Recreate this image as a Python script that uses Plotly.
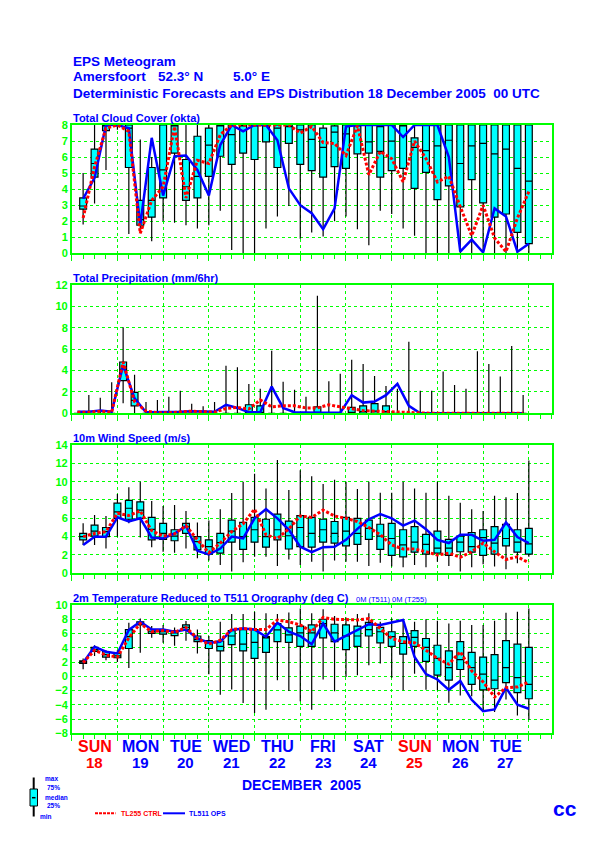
import plotly.graph_objects as go

# page geometry (pixels) - the reference is a 595x842 page
W, H = 595, 842
X0, X1 = 71.7, 551.7          # left / right edge of every panel
PANEL_TOPS = [125, 285, 445, 605]
PANEL_H = 128.3

BLUE = "#0000FF"
RED = "#FF0000"
GREEN = "#00FF00"
CYAN = "#00FFFF"
FONT = "Liberation Sans"


def px(x):
    return x / W


def py(y):
    return 1 - y / H


# forecast steps (hours after 18 Dec 2005 00 UTC)
step_hours = list(range(6, 241, 6))      # instantaneous fields
precip_hours = list(range(3, 240, 6))    # 6-hourly accumulations, mid period

day_names = ["SUN", "MON", "TUE", "WED", "THU", "FRI", "SAT", "SUN", "MON", "TUE"]
day_dates = ["18", "19", "20", "21", "22", "23", "24", "25", "26", "27"]
day_colors = [RED, BLUE, BLUE, BLUE, BLUE, BLUE, BLUE, RED, BLUE, BLUE]
day_mid_hours = [12, 36, 60, 84, 108, 132, 156, 180, 204, 228]

# ---- Total cloud cover (okta)
cloud_min = [1.8, 3.1, 5.2, 7.7, 1.2, 1.35, 0.75, 2.0, 1.9, 1.75, 1.55, 1.75, 2.65, 0.2, 0.0, 0.0, 1.55, 2.3, 2.95, 0.9,
             1.3, 1.05, 2.0, 2.3, 1.5, 0.5, 2.65, 2.45, 1.55, 1.1, 0, 0, 0, 0, 0, 0, 0, 0, 0, 0]
cloud_q1 = [2.75, 4.75, 7.65, 7.95, 5.35, 1.75, 2.25, 3.45, 6.25, 3.3, 3.45, 4.8, 6.05, 5.55, 6.25, 5.85, 6.95, 5.35, 6.85, 5.55,
            5.15, 4.75, 5.4, 5.3, 6.2, 6.25, 4.75, 5.15, 5.3, 4.05, 5.05, 3.35, 4.2, 2.9, 4.6, 3.15, 2.25, 2.45, 1.3, 0.6]
cloud_med = [2.95, 5.6, 7.95, 8, 7.8, 2.1, 3.3, 5.2, 7.95, 4.15, 4.8, 6.75, 8, 7.4, 8, 8, 8, 7.8, 7.9, 7.7,
             7.1, 6.6, 7.55, 7.45, 8, 6.95, 6.35, 7.0, 8, 6.6, 6.4, 6.7, 7.05, 5.6, 6.7, 6.85, 6.2, 6.5, 5.3, 4.5]
cloud_q3 = [3.45, 6.5, 8, 8, 8, 3.3, 5.35, 8, 8, 5.85, 7.3, 7.8, 8, 8, 8, 8, 8, 8, 8, 8,
            8, 7.8, 7.95, 8, 8, 8, 7.9, 8, 8, 7.2, 8, 8, 8, 8, 8, 8, 8, 8, 8, 8]
cloud_max = [5.0, 8, 8, 8, 8, 7.1, 6.0, 8, 8, 8, 8, 8, 8, 8, 8, 8, 8, 8, 8, 8,
             8, 8, 8, 8, 8, 8, 8, 8, 8, 8, 8, 8, 8, 8, 8, 8, 8, 8, 8, 8]
cloud_ops = [3.4, 4.7, 8, 8, 7.8, 1.75, 7.2, 3.6, 6.05, 6.1, 5.2, 3.6, 6.75, 8, 7.6, 8, 8, 7.05, 4.05, 3.0,
             2.5, 1.5, 2.8, 7.9, 8, 8, 8, 8, 7.25, 8, 8, 8, 6.0, 0.1, 0.85, 0.05, 2.8, 2.3, 0.1, 0.6]
cloud_ctrl = [2.2, 5.4, 7.8, 8, 7.6, 1.25, 3.3, 4.15, 7.9, 3.45, 5.8, 5.6, 7.4, 8, 8, 8, 8, 8, 8, 7.5,
              7.9, 6.9, 6.85, 6.1, 7.95, 4.9, 6.35, 5.9, 4.45, 7.0, 5.9, 4.45, 4.8, 2.9, 1.1, 3.0, 0.95, 0.1, 2.2, 3.85]

# ---- Total precipitation (mm/6hr)
precip_min = [0, 0, 0, 0, 0.95, 0, 0, 0, 0, 0, 0, 0, 0, 0, 0, 0, 0, 0, 0, 0,
              0, 0, 0, 0, 0, 0, 0, 0, 0, 0, 0, 0, 0, 0, 0, 0, 0, 0, 0, 0]
precip_q1 = [0, 0, 0, 0, 3.05, 0.7, 0, 0, 0, 0, 0, 0, 0, 0, 0, 0, 0, 0, 0, 0,
             0, 0, 0, 0, 0, 0, 0, 0, 0, 0, 0, 0, 0, 0, 0, 0, 0, 0, 0, 0]
precip_med = [0, 0, 0, 0, 4.1, 1.2, 0, 0, 0, 0, 0, 0, 0, 0, 0, 0.1, 0.1, 0, 0, 0,
              0, 0.1, 0, 0, 0.1, 0.15, 0.2, 0.15, 0, 0, 0, 0, 0, 0, 0, 0, 0, 0, 0, 0]
precip_q3 = [0, 0, 0, 0, 4.8, 1.95, 0, 0, 0, 0, 0, 0, 0, 0, 0, 0.8, 0.7, 0, 0, 0,
             0, 0.6, 0, 0, 0.55, 0.7, 0.9, 0.7, 0, 0, 0, 0, 0, 0, 0, 0, 0, 0, 0, 0]
precip_max = [0, 1.7, 1.45, 2.9, 8.05, 3.6, 1.05, 1.25, 1.55, 2.1, 0.9, 0.65, 1.05, 4.45, 4.3, 2.75, 2.3, 5.85, 2.95, 2.2,
              1.55, 11.0, 3.0, 3.7, 5.0, 4.6, 3.5, 2.55, 2.3, 6.7, 2.1, 2.1, 3.9, 2.65, 2.3, 5.8, 4.6, 3.45, 6.3, 1.7]
precip_ops = [0.15, 0.15, 0.25, 0.15, 4.5, 1.4, 0.1, 0.1, 0.1, 0.15, 0.2, 0.2, 0.15, 0.8, 0.5, 0.1, 0.1, 2.5, 0.5, 0.1,
              0.05, 0.05, 0.05, 0.05, 1.7, 1.0, 1.1, 1.7, 2.75, 0.7, 0, 0, 0, 0, 0, 0, 0, 0, 0, 0]
precip_ctrl = [0.1, 0.1, 0.2, 0.1, 4.8, 1.1, 0.2, 0.05, 0.05, 0.1, 0.2, 0.15, 0.1, 0.45, 0.55, 0.4, 1.25, 0.6, 0.7, 0.7,
               0.5, 0.5, 0.8, 0.6, 0.4, 0.25, 0.2, 0.15, 0.1, 0.05, 0, 0, 0, 0, 0, 0, 0, 0, 0, 0]

# ---- 10m wind speed (m/s)
wind_min = [3.1, 3.1, 2.7, 4.0, 5.45, 3.9, 2.85, 2.35, 2.25, 2.7, 1.65, 1.4, 0.9, 0.2, 1.2, 1.8, 1.8, 0.8, 1.5, 0.9,
            1.25, 0.2, 1.4, 1.25, 1.25, 0.8, 1.15, 0.75, 0.65, 0.9, 0.65, 1.25, 0.8, 0.2, 0.65, 1.0, 0.75, 0.45, 1.1, 1.8]
wind_q1 = [3.65, 4.05, 4.0, 6.0, 5.9, 6.0, 3.65, 3.7, 3.55, 4.35, 2.55, 2.1, 2.2, 3.4, 2.6, 3.4, 2.85, 3.65, 2.65, 2.9,
           2.85, 3.4, 3.3, 3.0, 3.15, 3.7, 2.6, 1.95, 1.8, 2.3, 2.1, 2.2, 1.95, 2.35, 2.3, 1.95, 2.1, 3.0, 2.3, 2.1]
wind_med = [4.0, 4.6, 4.55, 6.7, 7.1, 6.9, 4.8, 4.35, 4.05, 5.1, 3.45, 2.9, 3.35, 4.6, 4.0, 4.75, 4.0, 4.75, 4.1, 5.0,
            4.35, 4.75, 4.35, 4.6, 4.35, 4.9, 4.05, 3.8, 3.1, 3.4, 3.15, 2.75, 2.75, 3.4, 2.9, 3.9, 3.3, 3.8, 3.4, 3.2]
wind_q3 = [4.35, 5.25, 5.0, 7.65, 7.95, 7.8, 6.1, 5.45, 4.75, 5.45, 4.0, 3.65, 4.35, 5.8, 5.55, 6.1, 5.9, 6.45, 5.7, 6.3,
           6.1, 5.9, 5.65, 6.1, 6.0, 5.8, 5.35, 5.45, 4.75, 5.1, 4.25, 4.6, 3.7, 4.05, 4.45, 4.75, 5.1, 5.35, 4.75, 4.9]
wind_max = [5.45, 6.35, 6.25, 8.65, 9.4, 10.0, 7.9, 7.35, 7.45, 6.8, 5.55, 5.75, 7.0, 8.75, 10.0, 10.85, 9.25, 12.35, 9.1, 11.25,
            10.6, 9.75, 10.2, 10.0, 9.2, 10.0, 8.8, 8.8, 10.0, 9.25, 8.8, 10.0, 8.45, 7.7, 7.0, 6.8, 8.45, 8.3, 8.75, 12.3]
wind_ops = [3.1, 4.0, 4.0, 6.1, 5.65, 6.0, 3.9, 3.8, 4.35, 5.15, 2.45, 2.05, 2.7, 4.0, 3.8, 6.0, 7.0, 6.0, 4.75, 2.9,
            2.3, 2.85, 2.9, 3.65, 4.85, 5.9, 6.45, 6.0, 5.2, 5.75, 4.8, 3.65, 3.3, 4.2, 4.2, 3.55, 3.65, 5.55, 3.95, 3.3]
wind_ctrl = [4.0, 4.35, 4.55, 6.55, 6.3, 6.8, 4.65, 4.05, 4.3, 5.2, 3.65, 2.25, 3.3, 4.55, 5.4, 7.0, 4.2, 3.8, 4.85, 6.25,
             6.1, 6.9, 6.25, 6.0, 5.65, 5.0, 4.2, 3.1, 2.65, 2.65, 2.35, 2.0, 2.2, 1.75, 2.35, 3.3, 2.35, 1.5, 1.8, 1.15]

# ---- 2m temperature (deg C)
temp_min = [1.0, 2.85, 2.25, 2.0, 1.15, 3.3, 5.4, 4.7, 4.3, 5.0, 3.2, 0.3, -2.6, -1.85, -3.75, -5.15, -4.7, -0.55, -2.05, -3.5,
            -4.7, -0.45, -2.1, -0.1, 0.15, 1.55, 1.8, -0.2, -1.95, 0.35, -1.9, -1.95, -3.7, -2.7, -2.8, -4.9, -5.0, -3.25, -5.5, -6.1]
temp_q1 = [1.8, 3.5, 2.7, 2.6, 3.9, 7.2, 6.0, 5.9, 5.7, 6.5, 4.85, 3.9, 3.55, 4.45, 3.55, 2.5, 3.35, 4.85, 4.75, 4.2,
           4.2, 5.4, 4.85, 3.75, 4.2, 5.65, 4.7, 4.2, 3.1, 4.2, 2.1, 0.15, -0.55, 0.95, -1.15, -1.9, -1.75, -0.9, -2.3, -3.15]
temp_med = [2.0, 3.75, 3.05, 2.85, 5.55, 7.4, 6.25, 6.25, 6.1, 6.85, 5.15, 4.7, 4.2, 5.65, 4.5, 4.75, 5.4, 6.5, 5.8, 6.1,
            6.1, 7.4, 6.1, 5.65, 5.65, 6.55, 6.25, 5.55, 4.6, 5.45, 4.05, 2.5, 1.2, 2.35, 1.2, 0.3, -0.55, 1.2, -0.2, -1.15]
temp_q3 = [2.15, 4.05, 3.45, 3.2, 6.55, 7.65, 6.55, 6.55, 6.4, 7.2, 5.65, 5.0, 4.95, 6.4, 6.55, 6.55, 5.55, 7.4, 6.8, 7.05,
           7.2, 8.0, 7.3, 7.2, 7.05, 7.55, 6.85, 6.25, 5.55, 6.4, 5.3, 4.35, 3.55, 4.85, 3.35, 2.7, 3.05, 5.0, 4.5, 4.05]
temp_max = [2.5, 4.35, 3.65, 3.65, 7.5, 8.1, 7.05, 7.2, 6.85, 7.75, 6.55, 5.65, 7.65, 8.75, 8.75, 9.05, 8.85, 8.75, 8.95, 9.5,
            8.85, 9.4, 8.45, 8.25, 8.75, 8.85, 7.65, 8.1, 7.8, 7.65, 8.0, 7.8, 7.4, 7.8, 7.2, 7.2, 7.8, 8.9, 9.05, 9.5]
temp_ops = [1.9, 4.15, 3.45, 3.2, 6.5, 7.65, 6.55, 6.55, 6.25, 6.55, 5.3, 4.7, 4.85, 6.5, 6.7, 6.55, 5.55, 7.5, 6.25, 5.65,
            4.5, 7.4, 4.85, 5.65, 6.55, 7.3, 7.2, 7.5, 7.9, 2.7, 0.3, -0.45, -1.9, -0.65, -3.3, -4.9, -4.65, -1.6, -4.0, -4.55]
temp_ctrl = [1.9, 3.65, 2.95, 2.7, 5.4, 7.4, 6.25, 6.4, 6.15, 6.85, 5.3, 4.5, 5.05, 6.55, 6.7, 6.55, 6.55, 7.9, 7.65, 7.2,
             6.25, 8.25, 8.0, 8.0, 7.9, 8.1, 6.7, 5.3, 4.85, 4.7, 3.65, 2.5, 1.7, 3.45, 0.75, -0.8, -2.9, -1.6, -1.5, -0.8]

panels = [
    dict(title="Total Cloud Cover (okta)", x=step_hours, yr=[0, 8], dt=1,
         stats=(cloud_min, cloud_q1, cloud_med, cloud_q3, cloud_max), ops=cloud_ops, ctrl=cloud_ctrl),
    dict(title="Total Precipitation (mm/6hr)", x=precip_hours, yr=[0, 12], dt=2,
         stats=(precip_min, precip_q1, precip_med, precip_q3, precip_max), ops=precip_ops, ctrl=precip_ctrl),
    dict(title="10m Wind Speed (m/s)", x=step_hours, yr=[0, 14], dt=2,
         stats=(wind_min, wind_q1, wind_med, wind_q3, wind_max), ops=wind_ops, ctrl=wind_ctrl),
    dict(title="2m Temperature Reduced to T511 Orography (deg C)", x=step_hours, yr=[-8, 10], dt=2,
         stats=(temp_min, temp_q1, temp_med, temp_q3, temp_max), ops=temp_ops, ctrl=temp_ctrl),
]

fig = go.Figure()
annotations = []
layout_axes = {}

for n, p in enumerate(panels, start=1):
    xa = "x" if n == 1 else f"x{n}"
    ya = "y" if n == 1 else f"y{n}"
    lo, q1, med, q3, hi = p["stats"]
    fig.add_trace(go.Box(x=p["x"], lowerfence=lo, q1=q1, median=med, q3=q3, upperfence=hi,
                         width=3.6, whiskerwidth=0, boxpoints=False,
                         fillcolor=CYAN, line=dict(color="black", width=1.2),
                         xaxis=xa, yaxis=ya, showlegend=False, hoverinfo="skip"))
    fig.add_trace(go.Scatter(x=p["x"], y=p["ops"], mode="lines",
                             line=dict(color=BLUE, width=2.5),
                             xaxis=xa, yaxis=ya, showlegend=False, hoverinfo="skip"))
    fig.add_trace(go.Scatter(x=p["x"], y=p["ctrl"], mode="lines",
                             line=dict(color=RED, width=3, dash="3px,2px"),
                             xaxis=xa, yaxis=ya, showlegend=False, hoverinfo="skip"))

    top = PANEL_TOPS[n - 1]
    layout_axes["xaxis" if n == 1 else f"xaxis{n}"] = dict(
        domain=[px(X0), px(X1)], range=[0, 252], anchor=ya, automargin=False,
        tickmode="array", tickvals=list(range(0, 241, 24)), showticklabels=False,
        ticks="outside", ticklen=6, tickcolor=GREEN, tickwidth=1,
        minor=dict(dtick=6, tick0=0, ticks="outside", ticklen=4, tickcolor=GREEN, showgrid=False),
        showgrid=True, gridcolor=GREEN, griddash="3px,3px", gridwidth=1,
        showline=True, mirror=True, linecolor=GREEN, linewidth=1.5, zeroline=False)
    layout_axes["yaxis" if n == 1 else f"yaxis{n}"] = dict(
        domain=[py(top + PANEL_H), py(top)], range=p["yr"], anchor=xa, automargin=False,
        tick0=0, dtick=p["dt"], ticks="",
        tickfont=dict(family=FONT, size=11, color=GREEN, weight="bold"),
        showgrid=True, gridcolor=GREEN, griddash="3px,3px", gridwidth=1,
        showline=True, mirror=True, linecolor=GREEN, linewidth=1.5, zeroline=False)

    annotations.append(dict(text=p["title"], x=px(X0 - 1), y=py(top - 7), xref="paper", yref="paper",
                            xanchor="left", yanchor="middle", showarrow=False,
                            font=dict(family=FONT, size=11, color=BLUE, weight="bold")))

annotations.append(dict(text="0M (T511) 0M (T255)", x=px(354), y=py(599), xref="paper", yref="paper",
                        xanchor="left", yanchor="middle", showarrow=False,
                        font=dict(family=FONT, size=7.5, color=BLUE)))


def head(text, x, y, size=13.5):
    annotations.append(dict(text=text, x=px(x), y=py(y), xref="paper", yref="paper",
                            xanchor="left", yanchor="middle", showarrow=False,
                            font=dict(family=FONT, size=size, color=BLUE, weight="bold")))


head("EPS Meteogram", 71, 61)
head("Amersfoort", 71, 77)
head("52.3° N", 156, 77)
head("5.0° E", 231, 77)
head("Deterministic Forecasts and EPS Distribution 18 December 2005  00 UTC", 71, 93.5)

# day labels under the bottom panel
for name, date, col, hx in zip(day_names, day_dates, day_colors, day_mid_hours):
    annotations.append(dict(text=name, x=hx, y=py(746), xref="x4", yref="paper",
                            xanchor="center", yanchor="middle", showarrow=False,
                            font=dict(family=FONT, size=16, color=col, weight="bold")))
    annotations.append(dict(text=date, x=hx, y=py(762), xref="x4", yref="paper",
                            xanchor="center", yanchor="middle", showarrow=False,
                            font=dict(family=FONT, size=15, color=col, weight="bold")))

annotations.append(dict(text="DECEMBER  2005", x=px(301), y=py(785), xref="paper", yref="paper",
                        xanchor="center", yanchor="middle", showarrow=False,
                        font=dict(family=FONT, size=14, color=BLUE, weight="bold")))

# box legend
for txt, lx, ly in [("max", 43, 778), ("75%", 45, 787.5), ("median", 43, 797), ("25%", 45, 805), ("min", 38, 816)]:
    annotations.append(dict(text=txt, x=px(lx), y=py(ly), xref="paper", yref="paper",
                            xanchor="left", yanchor="middle", showarrow=False,
                            font=dict(family=FONT, size=6.5, color=BLUE, weight="bold")))

annotations.append(dict(text="TL255 CTRL", x=px(119), y=py(813), xref="paper", yref="paper",
                        xanchor="left", yanchor="middle", showarrow=False,
                        font=dict(family=FONT, size=7, color=RED, weight="bold")))
annotations.append(dict(text="TL511 OPS", x=px(186.5), y=py(813), xref="paper", yref="paper",
                        xanchor="left", yanchor="middle", showarrow=False,
                        font=dict(family=FONT, size=7, color=BLUE, weight="bold")))
annotations.append(dict(text="cc", x=px(565), y=py(808), xref="paper", yref="paper",
                        xanchor="center", yanchor="middle", showarrow=False,
                        font=dict(family=FONT, size=21, color=BLUE, weight="bold")))

shapes = [
    dict(type="line", xref="paper", yref="paper", x0=px(33.7), x1=px(33.7), y0=py(777.5), y1=py(816.5),
         line=dict(color="black", width=2)),
    dict(type="rect", xref="paper", yref="paper", x0=px(30), x1=px(37.5), y0=py(806), y1=py(789),
         fillcolor=CYAN, line=dict(color="black", width=1)),
    dict(type="line", xref="paper", yref="paper", x0=px(32), x1=px(35.5), y0=py(797.7), y1=py(797.7),
         line=dict(color="black", width=1.5)),
    dict(type="line", xref="paper", yref="paper", x0=px(95), x1=px(115.5), y0=py(813.3), y1=py(813.3),
         line=dict(color=RED, width=2, dash="3px,1px")),
    dict(type="line", xref="paper", yref="paper", x0=px(163), x1=px(185), y0=py(813.3), y1=py(813.3),
         line=dict(color=BLUE, width=2)),
]

fig.update_layout(width=W, height=H, margin=dict(l=0, r=0, t=0, b=0, autoexpand=False),
                  paper_bgcolor="white", plot_bgcolor="white",
                  showlegend=False, annotations=annotations, shapes=shapes,
                  font=dict(family=FONT), **layout_axes)

# the page itself adds a default 8px body margin; drop it so the figure sits at 0,0
fig.write_html("out.html", config={"displayModeBar": False},
               post_script="document.body.style.margin='0';")
